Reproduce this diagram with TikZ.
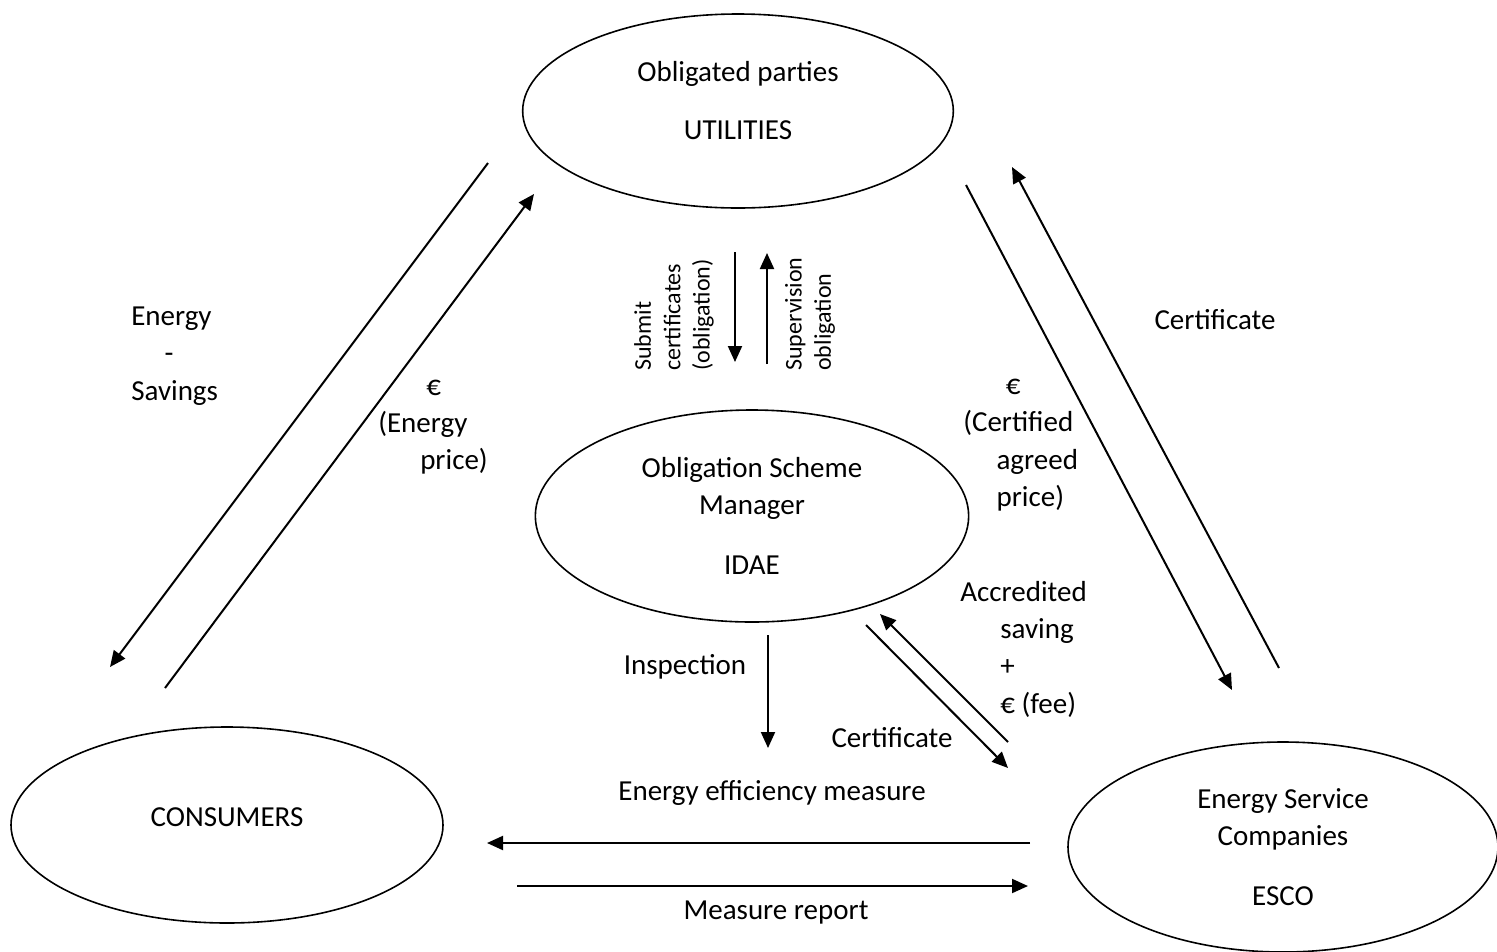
\documentclass[tikz,border=0pt]{standalone}
\usepackage{fontspec}
\setmainfont{Carlito}
\usetikzlibrary{shapes.geometric,arrows.meta}

\tikzset{
  party/.style={ellipse,draw,line width=1.2pt,inner sep=0pt,align=center},
  flow/.style={line width=1.5pt,-{Triangle[length=12pt,width=10.5pt]}},
  txt/.style={inner sep=0pt,align=left},
  small/.style={font=\fontsize{18}{22}\selectfont},
}

\begin{document}
\begin{tikzpicture}[x=0.75pt,y=-0.75pt,font=\fontsize{21.75}{28}\selectfont]
\useasboundingbox (0,0) rectangle (1497,951);
% actors
\node(util)[party,minimum width=323pt,minimum height=145.5pt,text depth=16pt] at (738,111){Obligated parties\\[16pt]UTILITIES};
\node(osm)[party,minimum width=325pt,minimum height=159pt] at (752,516){Obligation Scheme\\Manager\\[17pt]IDAE};
\node(cons)[party,minimum width=324pt,minimum height=147pt,text depth=12pt] at (227,825){CONSUMERS};
\node(esco)[party,minimum width=322.5pt,minimum height=157.5pt] at (1283,847){Energy Service\\Companies\\[17pt]ESCO};
% labels
\node(savings)[txt,anchor=west] at (131,356){Energy\\\hspace*{25pt}-\\Savings};
\node(eprice)[txt,anchor=west] at (378,427){\hspace*{36pt}€\\(Energy\\\hspace*{31.5pt}price)};
\node(cprice)[txt,anchor=west] at (963,445){\hspace*{32pt}€\\(Certified\\\hspace*{25pt}agreed\\\hspace*{25pt}price)};
\node(accr)[txt,anchor=west] at (960,649){Accredited\\\hspace*{30pt}saving\\\hspace*{30pt}+\\\hspace*{30pt}€ (fee)};
\node(submit)[txt,small,anchor=west,rotate=90] at (674,371){Submit\\certificates\\(obligation)};
\node(superv)[txt,small,anchor=west,rotate=90] at (810,371){Supervision\\obligation};
\node(certr) at (1215,320){Certificate};
\node(certm) at (892,738){Certificate};
\node(insp) at (685,667){Inspection};
\node(eem) at (772,793){Energy efficiency measure};
\node(mrep) at (776,913){Measure report};
% arrow ends
\coordinate(es1) at (488,163);
\coordinate(es2) at (110,667);
\coordinate(ep1) at (165,688);
\coordinate(ep2) at (534,194);
\coordinate(cp1) at (966,185);
\coordinate(cp2) at (1232,690);
\coordinate(ct1) at (1279,668);
\coordinate(ct2) at (1012,167);
\coordinate(sub1) at (735,252);
\coordinate(sub2) at (735,362);
\coordinate(sup1) at (767,364);
\coordinate(sup2) at (767,253);
\coordinate(ins1) at (768,635);
\coordinate(ins2) at (768,748);
\coordinate(mc1) at (866,625);
\coordinate(mc2) at (1008,768);
\coordinate(ac1) at (1008,742);
\coordinate(ac2) at (880,614);
\coordinate(eem1) at (1030,843);
\coordinate(eem2) at (487,843);
\coordinate(mr1) at (517,886);
\coordinate(mr2) at (1028,886);
% flows
\draw[flow] (es1) -- (es2);
\draw[flow] (ep1) -- (ep2);
\draw[flow] (cp1) -- (cp2);
\draw[flow] (ct1) -- (ct2);
\draw[flow] (sub1) -- (sub2);
\draw[flow] (sup1) -- (sup2);
\draw[flow] (ins1) -- (ins2);
\draw[flow] (mc1) -- (mc2);
\draw[flow] (ac1) -- (ac2);
\draw[flow] (eem1) -- (eem2);
\draw[flow] (mr1) -- (mr2);
\end{tikzpicture}
\end{document}
